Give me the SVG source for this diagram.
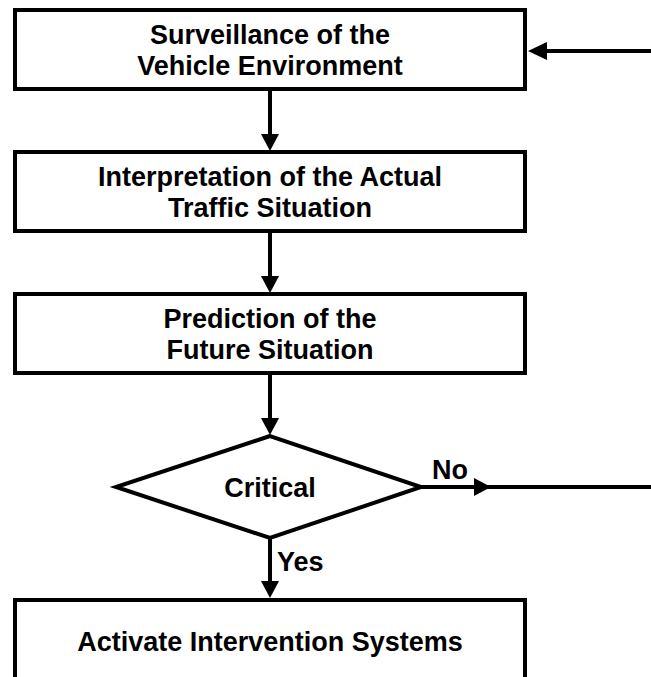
<svg xmlns="http://www.w3.org/2000/svg" width="651" height="677" viewBox="0 0 651 677">
<defs>
<style>
.box{fill:#fff;stroke:#000;stroke-width:4}
.ln{fill:none;stroke:#000;stroke-width:4}
.ah{fill:#000;stroke:none}
text{font-family:"Liberation Sans",Arial,sans-serif;font-weight:bold;font-size:27px;fill:#000;text-anchor:middle}
.lbl{text-anchor:start}
</style>
</defs>
<rect width="651" height="677" fill="#fff"/>
<g id="connectors">
<line class="ln" x1="651" y1="51" x2="544" y2="51"/>
<polygon class="ah" points="528,51 547,42 547,60"/>
<line class="ln" x1="270" y1="89" x2="270" y2="138"/>
<polygon class="ah" points="270,151 261,134 279,134"/>
<line class="ln" x1="270" y1="231" x2="270" y2="280"/>
<polygon class="ah" points="270,293 261,276 279,276"/>
<line class="ln" x1="270" y1="373" x2="270" y2="422"/>
<polygon class="ah" points="270,435 261,418 279,418"/>
<line class="ln" x1="421" y1="487" x2="651" y2="487"/>
<polygon class="ah" points="491,487 474,478 474,496"/>
<line class="ln" x1="270" y1="538" x2="270" y2="584"/>
<polygon class="ah" points="270,598 261,581 279,581"/>
<text class="lbl" x="432" y="479">No</text>
<text class="lbl" x="277" y="571">Yes</text>
</g>
<g id="surveillance">
<rect class="box" x="15" y="10" width="510" height="79"/>
<text x="270" y="44">Surveillance of the</text>
<text x="270" y="75">Vehicle Environment</text>
</g>
<g id="interpretation">
<rect class="box" x="15" y="152" width="510" height="79"/>
<text x="270" y="186">Interpretation of the Actual</text>
<text x="270" y="217">Traffic Situation</text>
</g>
<g id="prediction">
<rect class="box" x="15" y="294" width="510" height="79"/>
<text x="270" y="328">Prediction of the</text>
<text x="270" y="359">Future Situation</text>
</g>
<g id="critical">
<polygon class="box" points="270,436 116,487 270,538 421,487"/>
<text x="270" y="497">Critical</text>
</g>
<g id="activate">
<rect class="box" x="15" y="600" width="510" height="100"/>
<text x="270" y="651">Activate Intervention Systems</text>
</g>
</svg>
